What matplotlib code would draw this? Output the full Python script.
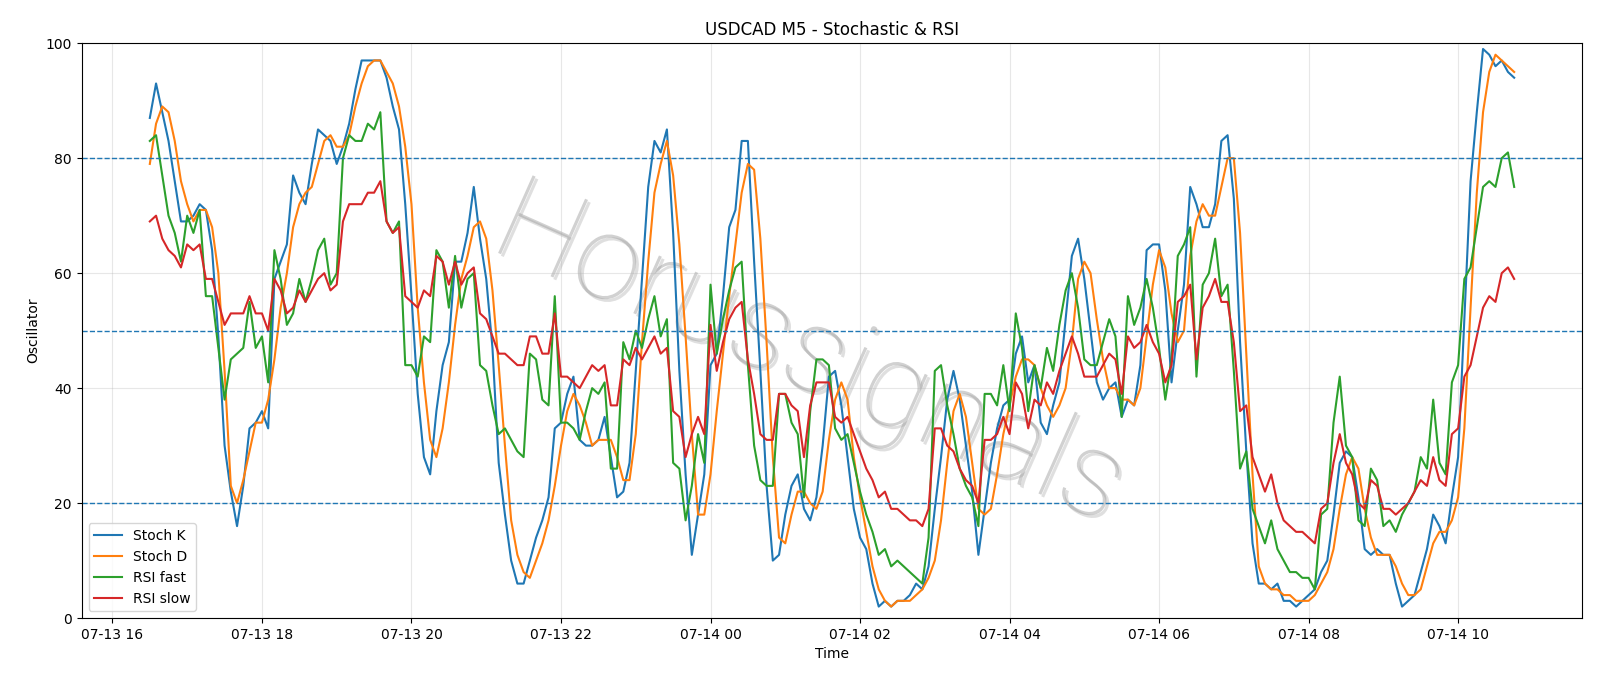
import matplotlib
matplotlib.use("Agg")
import matplotlib.pyplot as plt
import matplotlib.dates as mdates
import matplotlib.patheffects as pe
import pandas as pd

# M5 bars, 07-13 16:30 -> 07-14 10:45
times = pd.date_range("2024-07-13 16:30", periods=220, freq="5min")

stoch_k = [
    87, 93, 88, 83, 76, 69, 69, 70, 72, 71,
    64, 49, 30, 22, 16, 23, 33, 34, 36, 33,
    59, 62, 65, 77, 74, 72, 79, 85, 84, 83,
    79, 82, 86, 92, 97, 97, 97, 97, 94, 89,
    85, 72, 56, 39, 28, 25, 36, 44, 48, 62,
    62, 67, 75, 66, 59, 47, 27, 18, 10, 6,
    6, 10, 14, 17, 21, 33, 34, 39, 42, 31,
    30, 30, 31, 35, 28, 21, 22, 27, 43, 59,
    75, 83, 81, 85, 67, 43, 25, 11, 18, 25,
    44, 46, 56, 68, 71, 83, 83, 62, 43, 23,
    10, 11, 18, 23, 25, 19, 17, 21, 30, 42,
    43, 37, 28, 19, 14, 12, 6, 2, 3, 2,
    3, 3, 4, 6, 5, 9, 19, 28, 38, 43,
    38, 30, 22, 11, 19, 27, 33, 37, 38, 46,
    49, 41, 44, 34, 32, 37, 41, 52, 63, 66,
    59, 50, 41, 38, 40, 41, 35, 38, 37, 44,
    64, 65, 65, 57, 41, 50, 58, 75, 72, 68,
    68, 72, 83, 84, 73, 48, 29, 13, 6, 6,
    5, 6, 3, 3, 2, 3, 4, 5, 8, 10,
    18, 27, 29, 28, 21, 12, 11, 12, 11, 11,
    6, 2, 3, 4, 8, 12, 18, 16, 13, 21,
    28, 52, 76, 88, 99, 98, 96, 97, 95, 94,
]

stoch_d = [
    79, 86, 89, 88, 83, 76, 72, 69, 71, 71,
    68, 60, 43, 23, 20, 24, 29, 34, 34, 38,
    45, 54, 60, 68, 72, 74, 75, 79, 83, 84,
    82, 82, 84, 89, 93, 96, 97, 97, 95, 93,
    89, 82, 72, 54, 41, 31, 28, 33, 41, 51,
    59, 63, 68, 69, 66, 57, 44, 30, 17, 11,
    8, 7, 10, 13, 17, 23, 30, 36, 39, 37,
    34, 30, 31, 31, 31, 28, 24, 24, 32, 48,
    62, 74, 79, 83, 77, 65, 49, 32, 18, 18,
    25, 36, 46, 56, 65, 74, 79, 78, 66, 48,
    28, 14, 13, 18, 22, 22, 20, 19, 22, 31,
    38, 41, 38, 28, 21, 15, 9, 5, 3, 2,
    3, 3, 3, 4, 5, 7, 10, 17, 27, 36,
    39, 35, 27, 19, 18, 19, 25, 32, 37, 42,
    45, 45, 44, 40, 37, 35, 37, 40, 48, 59,
    62, 60, 52, 45, 40, 40, 38, 38, 37, 40,
    49, 58, 64, 61, 53, 48, 50, 63, 69, 72,
    70, 70, 75, 80, 80, 67, 46, 25, 9, 6,
    5, 5, 4, 4, 3, 3, 3, 4, 6, 8,
    12, 19, 25, 28, 26, 19, 14, 11, 11, 11,
    9, 6, 4, 4, 5, 9, 13, 15, 15, 17,
    21, 33, 54, 74, 88, 95, 98, 97, 96, 95,
]

rsi_fast = [
    83, 84, 77, 70, 67, 62, 70, 67, 71, 56,
    56, 47, 38, 45, 46, 47, 55, 47, 49, 41,
    64, 59, 51, 53, 59, 55, 59, 64, 66, 58,
    60, 80, 84, 83, 83, 86, 85, 88, 69, 67,
    69, 44, 44, 42, 49, 48, 64, 62, 54, 63,
    54, 59, 60, 44, 43, 37, 32, 33, 31, 29,
    28, 46, 45, 38, 37, 56, 34, 34, 33, 31,
    36, 40, 39, 41, 26, 26, 48, 45, 50, 47,
    52, 56, 49, 52, 27, 26, 17, 23, 32, 27,
    58, 46, 52, 57, 61, 62, 44, 30, 24, 23,
    23, 39, 39, 34, 32, 21, 36, 45, 45, 44,
    33, 31, 32, 27, 22, 18, 15, 11, 12, 9,
    10, 9, 8, 7, 6, 14, 43, 44, 37, 32,
    26, 23, 21, 16, 39, 39, 37, 44, 36, 53,
    47, 36, 44, 40, 47, 43, 51, 57, 60, 54,
    45, 44, 44, 48, 52, 49, 35, 56, 51, 54,
    59, 54, 47, 38, 45, 63, 65, 68, 42, 58,
    60, 66, 56, 58, 43, 26, 29, 19, 16, 13,
    17, 12, 10, 8, 8, 7, 7, 5, 18, 19,
    34, 42, 30, 28, 17, 16, 26, 24, 16, 17,
    15, 18, 20, 22, 28, 26, 38, 27, 25, 41,
    44, 59, 61, 68, 75, 76, 75, 80, 81, 75,
]

rsi_slow = [
    69, 70, 66, 64, 63, 61, 65, 64, 65, 59,
    59, 55, 51, 53, 53, 53, 56, 53, 53, 50,
    59, 57, 53, 54, 57, 55, 57, 59, 60, 57,
    58, 69, 72, 72, 72, 74, 74, 76, 69, 67,
    68, 56, 55, 54, 57, 56, 63, 62, 58, 62,
    58, 60, 61, 53, 52, 49, 46, 46, 45, 44,
    44, 49, 49, 46, 46, 53, 42, 42, 41, 40,
    42, 44, 43, 44, 37, 37, 45, 44, 47, 45,
    47, 49, 46, 47, 36, 35, 28, 32, 35, 32,
    51, 43, 48, 52, 54, 55, 45, 39, 32, 31,
    31, 39, 39, 37, 36, 28, 37, 41, 41, 41,
    35, 34, 35, 32, 29, 26, 24, 21, 22, 19,
    19, 18, 17, 17, 16, 19, 33, 33, 30, 29,
    26, 24, 23, 20, 31, 31, 32, 35, 32, 41,
    39, 33, 38, 37, 41, 39, 43, 46, 49, 46,
    42, 42, 42, 44, 46, 45, 39, 49, 47, 48,
    51, 48, 46, 41, 44, 55, 56, 58, 45, 54,
    56, 59, 55, 55, 48, 36, 37, 28, 25, 22,
    25, 20, 17, 16, 15, 15, 14, 13, 19, 20,
    27, 32, 27, 25, 20, 19, 24, 23, 19, 19,
    18, 19, 20, 22, 24, 23, 28, 24, 23, 32,
    33, 42, 44, 49, 54, 56, 55, 60, 61, 59,
]

levels = [20, 50, 80]

fig, ax = plt.subplots(figsize=(16, 6.86), dpi=100)
fig.subplots_adjust(left=0.051, right=0.989, top=0.937, bottom=0.099)

ax.plot(times, stoch_k, label="Stoch K", lw=1.5)
ax.plot(times, stoch_d, label="Stoch D", lw=1.5)
ax.plot(times, rsi_fast, label="RSI fast", lw=1.5)
ax.plot(times, rsi_slow, label="RSI slow", lw=1.5)
for lv in levels:
    ax.axhline(lv, color="C0", linestyle="--", lw=1)

ax.set_ylim(0, 100)
ax.xaxis.set_major_locator(mdates.HourLocator(byhour=range(0, 24, 2)))
ax.xaxis.set_major_formatter(mdates.DateFormatter("%m-%d %H"))
ax.grid(True, alpha=0.3)
ax.set_title("USDCAD M5 - Stochastic & RSI")
ax.set_xlabel("Time")
ax.set_ylabel("Oscillator")
ax.legend(loc="lower left")

# watermark
ax.text(0.485, 0.455, "Horussignals", transform=ax.transAxes, fontsize=86,
        family="Roboto", fontweight="light", color="#999999", alpha=0.45,
        rotation=-24, ha="center", va="center", zorder=0,
        path_effects=[pe.withSimplePatchShadow(offset=(2, -2), alpha=0.15)])

plt.savefig("out.png", dpi=100)
